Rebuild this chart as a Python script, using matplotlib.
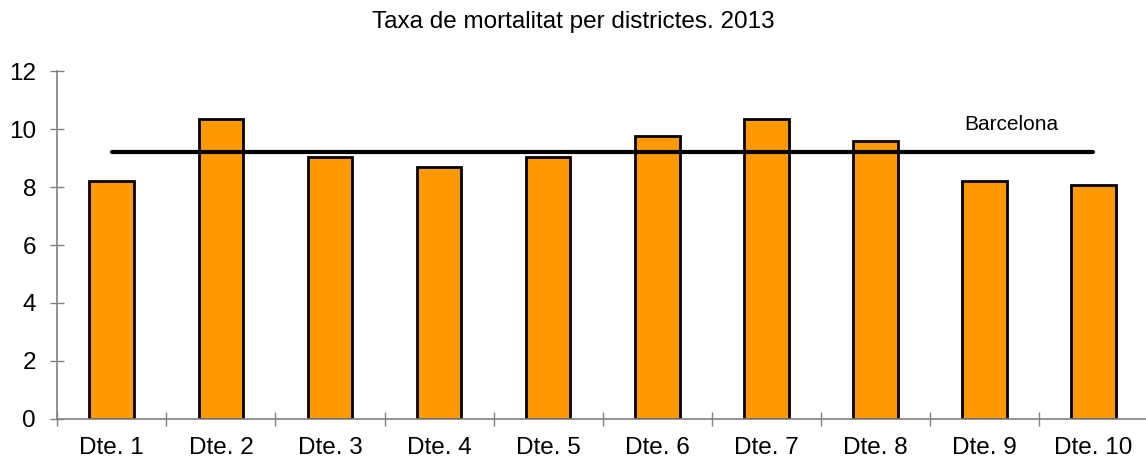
import matplotlib
matplotlib.use("Agg")
import matplotlib.pyplot as plt
import numpy as np

plt.rcParams['font.family'] = ['Liberation Sans', 'DejaVu Sans']

districts = ["Dte. 1", "Dte. 2", "Dte. 3", "Dte. 4", "Dte. 5",
             "Dte. 6", "Dte. 7", "Dte. 8", "Dte. 9", "Dte. 10"]
mortality = [8.20, 10.34, 9.03, 8.68, 9.05, 9.78, 10.36, 9.60, 8.20, 8.08]
barcelona = 9.22
title = "Taxa de mortalitat per districtes. 2013"
yticks = [0, 2, 4, 6, 8, 10, 12]

fig = plt.figure(figsize=(11.46, 4.57), dpi=100)
ax = fig.add_axes([57.3 / 1146, 1 - 418.7 / 457, (1148 - 57.3) / 1146, (418.7 - 71.3) / 457])

x = np.arange(len(districts))
ax.bar(x, mortality, width=0.41, color="#FF9900", edgecolor="black", linewidth=2.0, zorder=2)
ax.plot([x[0], x[-1]], [barcelona, barcelona], color="black", lw=3.0,
        solid_capstyle="round", zorder=3)
ax.text(8.25, 10.15, "Barcelona", fontsize=15, ha="center", va="center")

ax.set_xlim(-0.5, len(districts) - 0.5)
ax.set_ylim(0, 12)
ax.set_yticks(yticks)
ax.set_yticklabels([str(v) for v in yticks])

ax.set_xticks(np.arange(len(districts) + 1) - 0.5)
ax.set_xticklabels([])
ax.set_xticks(x, minor=True)
ax.set_xticklabels(districts, minor=True)

for side in ["top", "right"]:
    ax.spines[side].set_visible(False)
for side in ["left", "bottom"]:
    ax.spines[side].set_color("#808080")
    ax.spines[side].set_linewidth(1.2)

ax.tick_params(axis="both", which="major", direction="inout", length=10.5,
               width=1.0, color="#808080", labelsize=17.5)
ax.tick_params(axis="y", which="major", pad=10)
ax.tick_params(axis="x", which="minor", length=0, labelsize=17.5, pad=13)

fig.text(0.5, 1 - 22 / 457, title, ha="center", va="center", fontsize=17.5)

fig.savefig("out.png", dpi=100)
